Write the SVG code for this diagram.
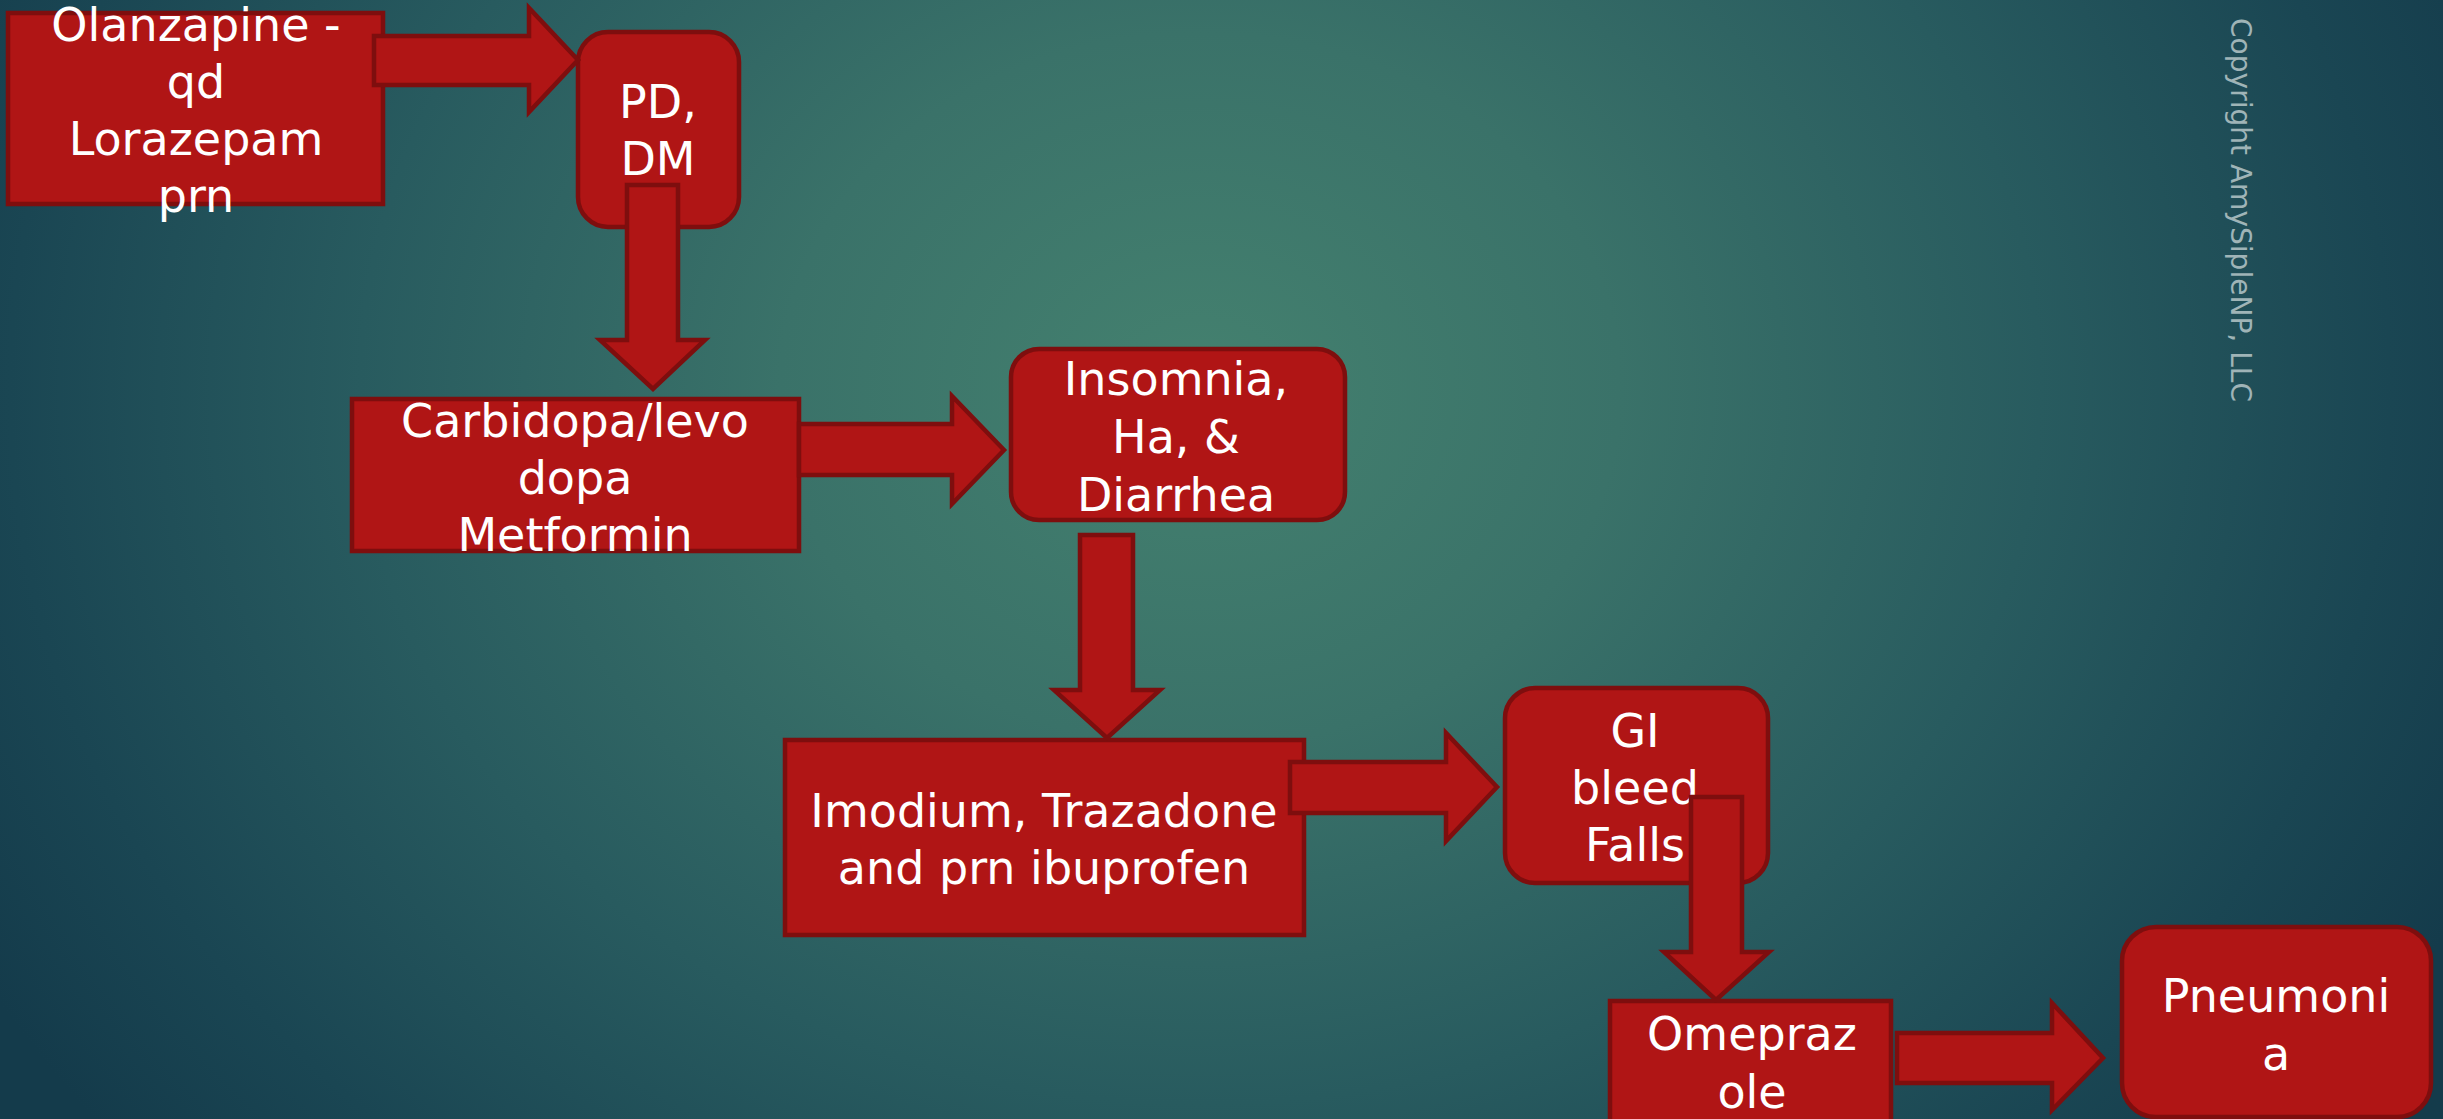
<svg xmlns="http://www.w3.org/2000/svg" width="2443" height="1119" viewBox="0 0 2443 1119">
<defs>
<radialGradient id="bg" gradientUnits="userSpaceOnUse" cx="1200" cy="390" r="1400" gradientTransform="translate(1200 390) scale(1 0.85) translate(-1200 -390)">
<stop offset="0" stop-color="#44816f"/>
<stop offset="0.3" stop-color="#3a7269"/>
<stop offset="0.6" stop-color="#285b5f"/>
<stop offset="0.85" stop-color="#1a4653"/>
<stop offset="1" stop-color="#143b4b"/>
</radialGradient>
<style>
.box{fill:#b01515;stroke:#7e0e0e;stroke-width:4.5}
.arr{fill:#b01515;stroke:#7e0e0e;stroke-width:4.5;stroke-linejoin:miter}
.t{font-family:"DejaVu Sans","Liberation Sans",sans-serif;font-size:46px;fill:#ffffff;text-anchor:middle}
.cp{font-family:"DejaVu Sans","Liberation Sans",sans-serif;font-size:28px;fill:#9fb4b7;text-anchor:middle;dominant-baseline:central}
</style>
</defs>
<rect width="2443" height="1119" fill="url(#bg)"/>
<text class="cp" x="2240" y="210" transform="rotate(90 2240 210)" textLength="384" lengthAdjust="spacingAndGlyphs">Copyright AmySipleNP, LLC</text>

<g id="node-olanzapine">
<rect class="box" x="8" y="13" width="375" height="191"/>
<text class="t" x="196" y="41">Olanzapine -</text>
<text class="t" x="196" y="98">qd</text>
<text class="t" x="196" y="155">Lorazepam</text>
<text class="t" x="196" y="212">prn</text>
</g>
<g id="node-pd-dm">
<rect class="box" x="578" y="32" width="161" height="195" rx="30"/>
<text class="t" x="658" y="118">PD,</text>
<text class="t" x="658" y="175">DM</text>
</g>
<g id="node-carbidopa">
<rect class="box" x="352" y="399" width="447" height="152"/>
<text class="t" x="575" y="437">Carbidopa/levo</text>
<text class="t" x="575" y="494">dopa</text>
<text class="t" x="575" y="551">Metformin</text>
</g>
<g id="node-insomnia">
<rect class="box" x="1011" y="349" width="334" height="171" rx="28"/>
<text class="t" x="1176" y="395">Insomnia,</text>
<text class="t" x="1176" y="453">Ha, &amp;</text>
<text class="t" x="1176" y="511">Diarrhea</text>
</g>
<g id="node-imodium">
<rect class="box" x="785" y="740" width="519" height="195"/>
<text class="t" x="1044" y="827">Imodium, Trazadone</text>
<text class="t" x="1044" y="884">and prn ibuprofen</text>
</g>
<g id="node-gi-bleed">
<rect class="box" x="1505" y="688" width="263" height="195" rx="30"/>
<text class="t" x="1635" y="747">GI</text>
<text class="t" x="1635" y="804">bleed</text>
<text class="t" x="1635" y="861">Falls</text>
</g>
<g id="node-omeprazole">
<rect class="box" x="1610" y="1001" width="281" height="130"/>
<text class="t" x="1752" y="1050">Omepraz</text>
<text class="t" x="1752" y="1108">ole</text>
</g>
<g id="node-pneumonia">
<rect class="box" x="2122" y="927" width="309" height="190" rx="34"/>
<text class="t" x="2276" y="1012">Pneumoni</text>
<text class="t" x="2276" y="1070">a</text>
</g>

<g id="connectors">
<polygon class="arr" points="374,36 529,36 529,8 578,60 529,112 529,85 374,85"/>
<polygon class="arr" points="627,185 678,185 678,340 705,340 653,389 600,340 627,340"/>
<polygon class="arr" points="799,424 952,424 952,396 1004,450 952,504 952,475 799,475"/>
<polygon class="arr" points="1080,535 1133,535 1133,690 1160,690 1107,738 1054,690 1080,690"/>
<polygon class="arr" points="1290,762 1446,762 1446,733 1497,787 1446,841 1446,813 1290,813"/>
<polygon class="arr" points="1691,797 1742,797 1742,952 1769,952 1716,1000 1664,952 1691,952"/>
<polygon class="arr" points="1897,1033 2052,1033 2052,1003 2103,1058 2052,1110 2052,1083 1897,1083"/>
</g>
</svg>
